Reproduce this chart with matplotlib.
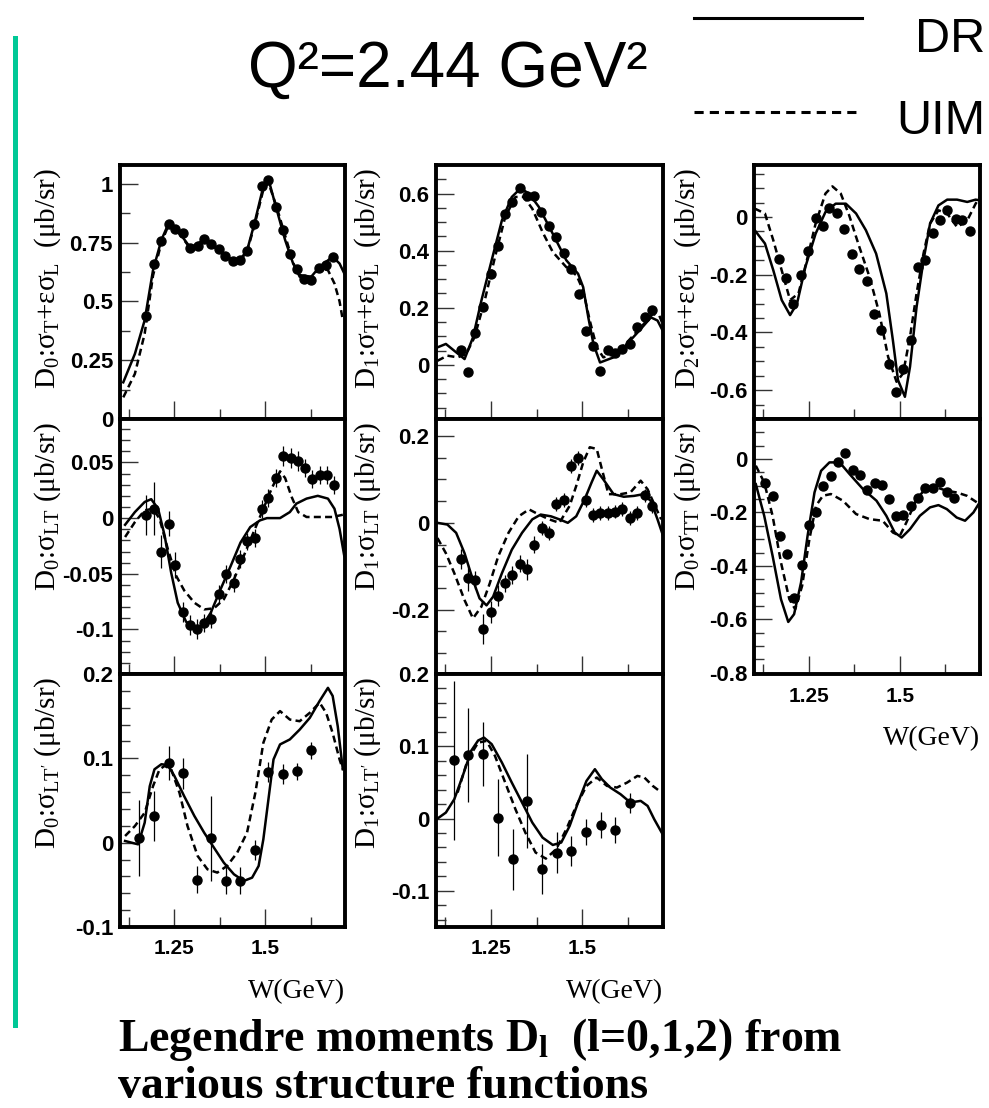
import matplotlib
matplotlib.use("Agg")
import matplotlib.pyplot as plt
from matplotlib.lines import Line2D
from matplotlib.ticker import MultipleLocator, FixedLocator, FuncFormatter

plt.rcParams['mathtext.fontset'] = 'custom'
plt.rcParams['mathtext.rm'] = 'Liberation Serif'
plt.rcParams['mathtext.it'] = 'Liberation Serif:italic'
plt.rcParams['mathtext.bf'] = 'Liberation Serif:bold'

# ---------------- data ----------------
# D0 : sigma_T + eps sigma_L
p1_w = [1.171, 1.193, 1.212, 1.234, 1.252, 1.273, 1.294, 1.314, 1.332, 1.350, 1.373, 1.389, 1.411, 1.430,
        1.450, 1.470, 1.491, 1.509, 1.529, 1.550, 1.568, 1.589, 1.606, 1.627, 1.647, 1.668, 1.686]
p1_y = [0.437, 0.657, 0.757, 0.829, 0.808, 0.792, 0.725, 0.735, 0.764, 0.744, 0.721, 0.693, 0.673, 0.676,
        0.716, 0.829, 0.991, 1.017, 0.903, 0.804, 0.700, 0.636, 0.597, 0.590, 0.640, 0.654, 0.687]
p1_dr_w = [1.109, 1.141, 1.168, 1.191, 1.214, 1.234, 1.255, 1.294, 1.330, 1.373, 1.411, 1.430, 1.450, 1.470,
           1.495, 1.509, 1.532, 1.555, 1.577, 1.595, 1.627, 1.650, 1.686, 1.705, 1.718]
p1_dr_y = [0.156, 0.277, 0.420, 0.633, 0.761, 0.832, 0.810, 0.728, 0.760, 0.720, 0.673, 0.676, 0.716, 0.829,
           0.989, 1.020, 0.889, 0.761, 0.661, 0.612, 0.605, 0.647, 0.690, 0.661, 0.619]
p1_uim_w = [1.109, 1.141, 1.168, 1.191, 1.214, 1.234, 1.255, 1.294, 1.330, 1.373, 1.411, 1.430, 1.450, 1.470,
            1.495, 1.509, 1.532, 1.555, 1.577, 1.595, 1.627, 1.650, 1.673, 1.691, 1.705, 1.714]
p1_uim_y = [0.092, 0.192, 0.363, 0.610, 0.750, 0.825, 0.805, 0.725, 0.758, 0.718, 0.670, 0.673, 0.712, 0.820,
            0.975, 1.005, 0.900, 0.780, 0.665, 0.605, 0.600, 0.640, 0.633, 0.576, 0.500, 0.420]

# D1 : sigma_T + eps sigma_L
p2_w = [1.169, 1.187, 1.207, 1.229, 1.249, 1.269, 1.289, 1.307, 1.329, 1.349, 1.367, 1.388, 1.409, 1.429,
        1.450, 1.470, 1.491, 1.509, 1.530, 1.548, 1.569, 1.590, 1.608, 1.630, 1.650, 1.670, 1.690]
p2_y = [0.052, -0.027, 0.110, 0.202, 0.319, 0.415, 0.527, 0.571, 0.621, 0.591, 0.591, 0.536, 0.485, 0.448,
        0.391, 0.336, 0.248, 0.117, 0.067, -0.023, 0.052, 0.040, 0.055, 0.073, 0.131, 0.166, 0.192]
p2_dr_w = [1.104, 1.127, 1.150, 1.178, 1.201, 1.224, 1.252, 1.280, 1.307, 1.331, 1.354, 1.381, 1.419, 1.456,
           1.488, 1.502, 1.516, 1.530, 1.548, 1.585, 1.622, 1.659, 1.687, 1.705, 1.719]
p2_dr_y = [0.061, 0.073, 0.049, 0.020, 0.096, 0.225, 0.366, 0.506, 0.588, 0.618, 0.600, 0.553, 0.459, 0.366,
           0.319, 0.272, 0.166, 0.073, 0.008, 0.026, 0.073, 0.125, 0.166, 0.155, 0.120]
p2_uim_w = [1.104, 1.131, 1.159, 1.182, 1.205, 1.233, 1.261, 1.289, 1.317, 1.340, 1.363, 1.391, 1.419, 1.456,
            1.484, 1.502, 1.520, 1.539, 1.557, 1.585, 1.622, 1.659, 1.692, 1.710, 1.719]
p2_uim_y = [0.014, 0.032, 0.026, 0.037, 0.096, 0.225, 0.377, 0.518, 0.588, 0.588, 0.547, 0.465, 0.395, 0.342,
            0.313, 0.260, 0.155, 0.061, 0.026, 0.037, 0.079, 0.131, 0.178, 0.172, 0.143]

# D2 : sigma_T + eps sigma_L
p3_w = [1.169, 1.188, 1.208, 1.230, 1.248, 1.269, 1.289, 1.307, 1.329, 1.348, 1.369, 1.389, 1.410, 1.429,
        1.449, 1.469, 1.489, 1.509, 1.531, 1.549, 1.569, 1.591, 1.611, 1.630, 1.653, 1.671, 1.692]
p3_y = [-0.144, -0.213, -0.300, -0.202, -0.119, -0.002, -0.032, 0.032, 0.014, -0.040, -0.127, -0.179, -0.222,
        -0.337, -0.392, -0.510, -0.606, -0.528, -0.427, -0.173, -0.150, -0.055, -0.012, 0.023, -0.006, -0.012,
        -0.048]
p3_dr_w = [1.102, 1.130, 1.153, 1.176, 1.199, 1.218, 1.241, 1.269, 1.296, 1.324, 1.352, 1.380, 1.407, 1.435,
           1.463, 1.481, 1.495, 1.514, 1.528, 1.546, 1.565, 1.583, 1.606, 1.630, 1.657, 1.685, 1.708, 1.718]
p3_dr_y = [-0.046, -0.092, -0.185, -0.288, -0.340, -0.300, -0.173, -0.058, 0.017, 0.046, 0.046, 0.012, -0.046,
           -0.127, -0.265, -0.427, -0.565, -0.623, -0.519, -0.312, -0.150, -0.023, 0.040, 0.060, 0.060, 0.052,
           0.060, 0.058]
p3_uim_w = [1.102, 1.130, 1.153, 1.176, 1.199, 1.222, 1.245, 1.269, 1.296, 1.315, 1.338, 1.361, 1.389, 1.417,
            1.444, 1.468, 1.491, 1.509, 1.528, 1.546, 1.565, 1.583, 1.606, 1.630, 1.657, 1.685, 1.708, 1.720]
p3_uim_y = [0.029, 0.012, -0.081, -0.185, -0.288, -0.265, -0.150, -0.023, 0.081, 0.106, 0.081, 0.006, -0.104,
            -0.208, -0.335, -0.485, -0.571, -0.542, -0.415, -0.265, -0.127, -0.023, 0.023, 0.012, -0.035, -0.012,
            0.046, 0.069]

# D0 : sigma_LT
p4_w = [1.171, 1.193, 1.212, 1.235, 1.252, 1.273, 1.294, 1.312, 1.332, 1.352, 1.373, 1.393, 1.414, 1.430,
        1.450, 1.471, 1.491, 1.509, 1.530, 1.550, 1.570, 1.591, 1.609, 1.629, 1.650, 1.670, 1.689]
p4_y = [0.0024, 0.0084, -0.030, -0.005, -0.042, -0.0845, -0.0957, -0.0993, -0.094, -0.0905, -0.068, -0.050,
        -0.058, -0.037, -0.021, -0.018, 0.0084, 0.018, 0.036, 0.056, 0.054, 0.051, 0.045, 0.035, 0.039, 0.039,
        0.030]
p4_err = [0.018, 0.024, 0.015, 0.011, 0.012, 0.009, 0.009, 0.009, 0.008, 0.008, 0.008, 0.008, 0.008, 0.008,
          0.008, 0.008, 0.008, 0.008, 0.008, 0.009, 0.009, 0.009, 0.008, 0.008, 0.008, 0.008, 0.008]
p4_dr_w = [1.114, 1.141, 1.168, 1.186, 1.205, 1.223, 1.241, 1.259, 1.282, 1.305, 1.327, 1.350, 1.377, 1.405,
           1.432, 1.459, 1.486, 1.505, 1.541, 1.568, 1.586, 1.614, 1.645, 1.673, 1.691, 1.705, 1.718]
p4_dr_y = [-0.006, 0.0054, 0.0145, 0.017, 0.0084, -0.0157, -0.049, -0.076, -0.093, -0.100, -0.097, -0.085,
           -0.064, -0.043, -0.022, -0.008, -0.002, 0.0, 0.0, 0.0054, 0.013, 0.0175, 0.020, 0.0175, 0.0084,
           -0.0097, -0.034]
p4_uim_w = [1.114, 1.141, 1.168, 1.191, 1.209, 1.232, 1.255, 1.277, 1.305, 1.332, 1.359, 1.386, 1.414, 1.441,
            1.468, 1.495, 1.518, 1.541, 1.555, 1.573, 1.591, 1.614, 1.650, 1.686, 1.714]
p4_uim_y = [-0.017, -0.0036, 0.007, 0.0084, -0.0006, -0.028, -0.052, -0.065, -0.076, -0.082, -0.081, -0.073,
            -0.055, -0.034, -0.0127, 0.0084, 0.0266, 0.042, 0.036, 0.019, 0.0054, 0.001, 0.001, 0.001, 0.003]

# D1 : sigma_LT
p5_w = [1.169, 1.187, 1.207, 1.229, 1.249, 1.269, 1.289, 1.307, 1.329, 1.349, 1.369, 1.389, 1.409, 1.429,
        1.450, 1.470, 1.489, 1.509, 1.530, 1.548, 1.569, 1.590, 1.608, 1.630, 1.650, 1.670, 1.690]
p5_y = [-0.083, -0.128, -0.132, -0.245, -0.205, -0.168, -0.139, -0.120, -0.094, -0.107, -0.050, -0.0116,
        -0.023, 0.044, 0.053, 0.130, 0.149, 0.053, 0.017, 0.0217, 0.023, 0.026, 0.031, 0.0116, 0.0217, 0.063,
        0.039]
p5_err = [0.023, 0.030, 0.020, 0.035, 0.025, 0.024, 0.020, 0.020, 0.020, 0.024, 0.020, 0.016, 0.016, 0.016,
          0.016, 0.016, 0.016, 0.016, 0.016, 0.016, 0.016, 0.016, 0.016, 0.016, 0.016, 0.016, 0.016]
p5_dr_w = [1.104, 1.131, 1.155, 1.178, 1.201, 1.219, 1.238, 1.256, 1.280, 1.307, 1.335, 1.363, 1.386, 1.414,
           1.437, 1.460, 1.483, 1.506, 1.525, 1.539, 1.557, 1.585, 1.613, 1.641, 1.667, 1.687, 1.705, 1.719]
p5_dr_y = [0.0, -0.004, -0.023, -0.070, -0.132, -0.174, -0.190, -0.170, -0.116, -0.062, -0.023, 0.008, 0.019,
           0.015, 0.008, 0.0, 0.015, 0.054, 0.093, 0.120, 0.100, 0.066, 0.060, 0.062, 0.066, 0.050, 0.008, -0.027]
p5_uim_w = [1.104, 1.127, 1.150, 1.178, 1.201, 1.224, 1.247, 1.270, 1.298, 1.326, 1.354, 1.381, 1.409, 1.437,
            1.465, 1.483, 1.502, 1.520, 1.539, 1.553, 1.571, 1.604, 1.631, 1.659, 1.678, 1.696, 1.715]
p5_uim_y = [-0.035, -0.070, -0.116, -0.178, -0.220, -0.193, -0.139, -0.077, -0.023, 0.015, 0.031, 0.019, 0.008,
            0.0, 0.039, 0.085, 0.139, 0.174, 0.170, 0.124, 0.066, 0.066, 0.070, 0.097, 0.077, 0.043, 0.008]

# D0 : sigma_TT
p6_w = [1.131, 1.151, 1.171, 1.190, 1.210, 1.232, 1.250, 1.270, 1.289, 1.310, 1.330, 1.351, 1.371, 1.392,
        1.411, 1.431, 1.451, 1.471, 1.489, 1.509, 1.530, 1.551, 1.569, 1.590, 1.610, 1.629, 1.649]
p6_y = [-0.090, -0.140, -0.290, -0.356, -0.519, -0.398, -0.2475, -0.1975, -0.1025, -0.065, -0.0125, 0.021,
        -0.041, -0.060, -0.116, -0.090, -0.0975, -0.150, -0.215, -0.210, -0.175, -0.1475, -0.110, -0.110,
        -0.0875, -0.125, -0.1475]
p6_dr_w = [1.105, 1.128, 1.151, 1.174, 1.194, 1.210, 1.229, 1.247, 1.266, 1.284, 1.307, 1.335, 1.362, 1.399,
           1.436, 1.463, 1.486, 1.505, 1.528, 1.555, 1.583, 1.606, 1.629, 1.656, 1.679, 1.702, 1.719]
p6_dr_y = [-0.094, -0.2125, -0.3625, -0.525, -0.610, -0.581, -0.4625, -0.2875, -0.125, -0.044, -0.0125,
           -0.0125, -0.056, -0.1125, -0.156, -0.2125, -0.275, -0.294, -0.2625, -0.2125, -0.181, -0.1725,
           -0.1875, -0.219, -0.231, -0.200, -0.1625]
p6_uim_w = [1.105, 1.128, 1.151, 1.174, 1.197, 1.213, 1.232, 1.252, 1.270, 1.289, 1.311, 1.344, 1.380, 1.417,
            1.453, 1.481, 1.500, 1.518, 1.546, 1.574, 1.601, 1.629, 1.656, 1.684, 1.719]
p6_uim_y = [-0.025, -0.0875, -0.2125, -0.3875, -0.525, -0.5625, -0.475, -0.300, -0.175, -0.1375, -0.131,
            -0.156, -0.206, -0.225, -0.231, -0.275, -0.2875, -0.2375, -0.150, -0.106, -0.106, -0.119, -0.125,
            -0.1375, -0.169]

# D0 : sigma_LT'
p7_w = [1.153, 1.193, 1.235, 1.273, 1.312, 1.352, 1.392, 1.430, 1.471, 1.509, 1.548, 1.589, 1.627]
p7_y = [0.0059, 0.0316, 0.0948, 0.0822, -0.0442, 0.0051, -0.0454, -0.0454, -0.0091, 0.0837, 0.0810, 0.0849,
        0.1094]
p7_err = [0.045, 0.030, 0.020, 0.018, 0.016, 0.050, 0.016, 0.016, 0.012, 0.012, 0.012, 0.010, 0.010]
p7_dr_w = [1.114, 1.132, 1.150, 1.168, 1.182, 1.195, 1.214, 1.232, 1.250, 1.277, 1.305, 1.332, 1.359, 1.386,
           1.414, 1.441, 1.464, 1.482, 1.495, 1.509, 1.523, 1.541, 1.568, 1.595, 1.623, 1.650, 1.673, 1.686,
           1.700, 1.714]
p7_dr_y = [0.002, 0.0, -0.002, 0.0237, 0.067, 0.087, 0.093, 0.092, 0.079, 0.055, 0.0316, 0.0118, -0.006,
           -0.0237, -0.0375, -0.0454, -0.0415, -0.0276, 0.004, 0.0513, 0.0987, 0.1165, 0.1224, 0.134, 0.148,
           0.168, 0.1836, 0.174, 0.138, 0.087]
p7_uim_w = [1.114, 1.141, 1.168, 1.191, 1.209, 1.223, 1.241, 1.264, 1.286, 1.314, 1.341, 1.368, 1.395, 1.423,
            1.450, 1.473, 1.495, 1.518, 1.541, 1.568, 1.595, 1.623, 1.650, 1.668, 1.686, 1.705, 1.714]
p7_uim_y = [0.0079, 0.0197, 0.0355, 0.067, 0.087, 0.091, 0.087, 0.059, 0.0197, -0.0158, -0.0316, -0.0355,
            -0.0276, -0.0118, 0.0118, 0.0592, 0.1184, 0.146, 0.156, 0.146, 0.144, 0.154, 0.166, 0.154, 0.130,
            0.0987, 0.087]

# D1 : sigma_LT'
p8_w = [1.148, 1.187, 1.229, 1.269, 1.309, 1.349, 1.389, 1.430, 1.469, 1.509, 1.550, 1.590, 1.630]
p8_y = [0.081, 0.0877, 0.089, 0.0014, -0.0563, 0.0245, -0.070, -0.047, -0.0448, -0.0185, -0.0088, -0.0162,
        0.0212]
p8_err = [0.110, 0.065, 0.044, 0.053, 0.042, 0.065, 0.035, 0.028, 0.021, 0.018, 0.018, 0.018, 0.014]
p8_dr_w = [1.104, 1.127, 1.150, 1.173, 1.196, 1.215, 1.231, 1.252, 1.280, 1.307, 1.335, 1.363, 1.391, 1.419,
           1.442, 1.465, 1.488, 1.511, 1.534, 1.553, 1.576, 1.604, 1.631, 1.659, 1.678, 1.696, 1.719]
p8_dr_y = [0.0, 0.0083, 0.0268, 0.059, 0.0937, 0.108, 0.112, 0.103, 0.0775, 0.0498, 0.0222, -0.0055, -0.0263,
           -0.0365, -0.0332, -0.0102, 0.0222, 0.0521, 0.0683, 0.0545, 0.0429, 0.0337, 0.0222, 0.0245, 0.0175,
           -0.0009, -0.0217]
p8_uim_w = [1.159, 1.187, 1.215, 1.238, 1.261, 1.289, 1.317, 1.344, 1.372, 1.400, 1.428, 1.456, 1.483, 1.511,
            1.539, 1.567, 1.594, 1.622, 1.650, 1.669, 1.692, 1.710]
p8_uim_y = [0.036, 0.082, 0.105, 0.1075, 0.0868, 0.0498, 0.0129, -0.0194, -0.047, -0.0554, -0.0425, -0.0148,
            0.0175, 0.0452, 0.0568, 0.0452, 0.0429, 0.0498, 0.059, 0.0568, 0.0452, 0.0383]

labels = [r'D$_0$:σ$_\mathrm{T}$+εσ$_\mathrm{L}$  (μb/sr)',
          r'D$_1$:σ$_\mathrm{T}$+εσ$_\mathrm{L}$  (μb/sr)',
          r'D$_2$:σ$_\mathrm{T}$+εσ$_\mathrm{L}$  (μb/sr)',
          r'D$_0$:σ$_\mathrm{LT}$ (μb/sr)',
          r'D$_1$:σ$_\mathrm{LT}$ (μb/sr)',
          r'D$_0$:σ$_\mathrm{TT}$ (μb/sr)',
          r"D$_0$:σ$_\mathrm{LT'}$ (μb/sr)",
          r"D$_1$:σ$_\mathrm{LT'}$ (μb/sr)"]

# ---------------- figure ----------------
W_PX, H_PX = 989, 1108
fig = plt.figure(figsize=(W_PX / 100, H_PX / 100), dpi=100)


def add_px_axes(l, t, r, b):
    return fig.add_axes([l / W_PX, 1 - b / H_PX, (r - l) / W_PX, (b - t) / H_PX])


def fmt(v, pos):
    v = round(v, 6)
    if abs(v) < 1e-9:
        v = 0
    return '{:g}'.format(v)


def draw_panel(ax, w, y, err, dr_w, dr_y, uim_w, uim_y, ylim, major, minor, xlabels):
    ax.plot(dr_w, dr_y, color='black', lw=1.8, zorder=2)
    ax.plot(uim_w, uim_y, color='black', lw=1.8, linestyle=(0, (2.8, 1.7)), zorder=2)
    if err is not None:
        ax.errorbar(w, y, yerr=err, fmt='none', ecolor='black', elinewidth=0.9, capsize=0, zorder=3)
    ax.plot(w, y, 'o', color='black', ms=6.5, zorder=4)
    ax.set_xlim(1.1, 1.72)
    ax.set_ylim(*ylim)
    for s in ax.spines.values():
        s.set_linewidth(2.8)
    ax.xaxis.set_major_locator(FixedLocator([1.25, 1.5]))
    ax.xaxis.set_minor_locator(FixedLocator([1.125, 1.375, 1.625]))
    ax.xaxis.set_major_formatter(FuncFormatter(fmt))
    ax.yaxis.set_major_locator(MultipleLocator(major))
    ax.yaxis.set_minor_locator(MultipleLocator(minor))
    ax.yaxis.set_major_formatter(FuncFormatter(fmt))
    ax.tick_params(which='both', direction='in', top=False, right=False, color='#333333')
    ax.tick_params(which='major', length=13, width=1.0)
    ax.tick_params(which='minor', length=7, width=1.0)
    ax.tick_params(axis='y', labelsize=16, pad=5)
    ax.tick_params(axis='x', labelsize=15, pad=9, labelbottom=xlabels)
    for t in ax.get_yticklabels() + ax.get_xticklabels():
        t.set_fontweight('bold')
        t.set_fontfamily('Liberation Sans')
    if xlabels:
        ax.text(1.0, -0.255, 'W(GeV)', transform=ax.transAxes, ha='right', va='center',
                fontsize=20, family='Liberation Serif')


cols = [(120, 345), (436, 663), (754, 980)]
rows = [(165, 419), (419, 674), (674, 927)]
label_x = [48, 368, 688]

panels = [
    (0, 0, p1_w, p1_y, None, p1_dr_w, p1_dr_y, p1_uim_w, p1_uim_y, (0, 1.08), 0.25, 0.125, False),
    (1, 0, p2_w, p2_y, None, p2_dr_w, p2_dr_y, p2_uim_w, p2_uim_y, (-0.19, 0.70), 0.2, 0.05, False),
    (2, 0, p3_w, p3_y, None, p3_dr_w, p3_dr_y, p3_uim_w, p3_uim_y, (-0.70, 0.18), 0.2, 0.05, False),
    (0, 1, p4_w, p4_y, p4_err, p4_dr_w, p4_dr_y, p4_uim_w, p4_uim_y, (-0.14, 0.089), 0.05, 0.01, False),
    (1, 1, p5_w, p5_y, p5_err, p5_dr_w, p5_dr_y, p5_uim_w, p5_uim_y, (-0.348, 0.239), 0.2, 0.05, False),
    (2, 1, p6_w, p6_y, None, p6_dr_w, p6_dr_y, p6_uim_w, p6_uim_y, (-0.805, 0.15), 0.2, 0.05, True),
    (0, 2, p7_w, p7_y, p7_err, p7_dr_w, p7_dr_y, p7_uim_w, p7_uim_y, (-0.1, 0.2), 0.1, 0.02, True),
    (1, 2, p8_w, p8_y, p8_err, p8_dr_w, p8_dr_y, p8_uim_w, p8_uim_y, (-0.15, 0.2), 0.1, 0.02, True),
]

for i, (c, r, w, y, err, dw, dy, uw, uy, ylim, major, minor, xl) in enumerate(panels):
    l, rr = cols[c]
    t, b = rows[r]
    ax = add_px_axes(l, t, rr, b)
    draw_panel(ax, w, y, err, dw, dy, uw, uy, ylim, major, minor, xl)
    fig.text(label_x[c] / W_PX, 1 - (t + 3) / H_PX, labels[i], rotation=90, ha='center', va='top',
             fontsize=21, family='Liberation Serif')

# title and legend
fig.text(248 / W_PX, 1 - 87 / H_PX, 'Q²=2.44 GeV²', fontsize=46, family='Liberation Sans', va='baseline')
fig.add_artist(Line2D([694 / W_PX, 862 / W_PX], [1 - 18 / H_PX] * 2, color='black', lw=2.2))
fig.add_artist(Line2D([694 / W_PX, 862 / W_PX], [1 - 112 / H_PX] * 2, color='black', lw=2.2,
                      linestyle=(0, (3, 2))))
fig.text(985 / W_PX, 1 - 52 / H_PX, 'DR', fontsize=35, family='Liberation Sans', ha='right', va='baseline')
fig.text(985 / W_PX, 1 - 134 / H_PX, 'UIM', fontsize=35, family='Liberation Sans', ha='right', va='baseline')

# green bar on the left
fig.add_artist(Line2D([14.5 / W_PX] * 2, [1 - 38 / H_PX, 1 - 1025 / H_PX], color='#00c896', lw=3.6))

# caption
fig.text(118 / W_PX, 1 - 1051 / H_PX, r'Legendre moments D$_\mathbf{l}$  (l=0,1,2) from', fontsize=33,
         fontweight='bold', family='Liberation Serif', va='baseline')
fig.text(118 / W_PX, 1 - 1098 / H_PX, 'various structure functions', fontsize=33,
         fontweight='bold', family='Liberation Serif', va='baseline')

fig.savefig('out.png', dpi=100)
